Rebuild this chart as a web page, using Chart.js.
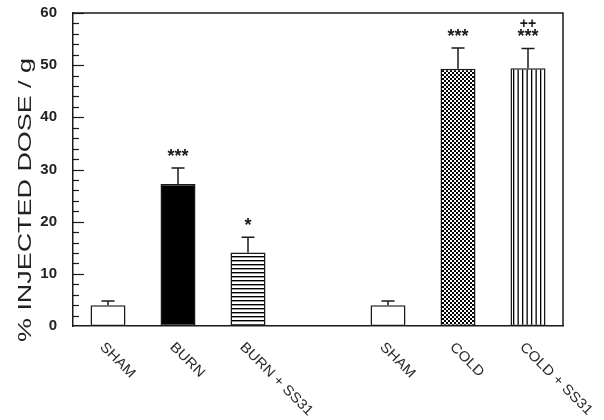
<!DOCTYPE html>
<html>
<head>
<meta charset="utf-8">
<script src="https://cdn.jsdelivr.net/npm/chart.js@4/dist/chart.umd.min.js"></script>
<style>
    html, body { margin: 0; padding: 0; background: #fff; }
</style>
</head>
<body>
<canvas id="doseChart" width="604" height="420"></canvas>
<script>
// values
var groups = ['SHAM', 'BURN', 'BURN + SS31', '', 'SHAM', 'COLD', 'COLD + SS31'];
var doseMeans = [4.0, 27.2, 14.1, null, 4.0, 49.3, 49.4];
var doseErrors = [0.8, 3.1, 2.9, null, 0.8, 4.0, 3.8];
var starMarks = ['', '***', '*', '', '', '***', '***'];
var crossMarks = ['', '', '', '', '', '', '++'];
var yTicks = [0, 10, 20, 30, 40, 50, 60];
var yTitle = '% INJECTED DOSE / g';

var ink = '#1a1a1a';
var fontName = '"Liberation Sans", Arial, sans-serif';

function makePattern(w, h, draw) {
    var c = document.createElement('canvas');
    c.width = w;
    c.height = h;
    var g = c.getContext('2d');
    g.fillStyle = '#fff';
    g.fillRect(0, 0, w, h);
    g.fillStyle = '#000';
    draw(g);
    return g.createPattern(c, 'repeat');
}

var hLines = makePattern(4, 4, function (g) { g.fillRect(0, 0, 4, 1.4); });
var vLines = makePattern(9, 4, function (g) { g.fillRect(0, 0, 1.3, 4); g.fillRect(4.5, 0, 1.3, 4); });
var checker = makePattern(4, 4, function (g) { g.fillRect(0, 0, 2, 2); g.fillRect(2, 2, 2, 2); });

var barFills = ['#fff', '#000', hLines, '#fff', '#fff', checker, vLines];

var figureExtras = {
    id: 'figureExtras',
    afterDatasetsDraw: function (chart) {
        var ctx = chart.ctx;
        var y = chart.scales.y;
        var x = chart.scales.x;
        var area = chart.chartArea;
        var meta = chart.getDatasetMeta(0);

        ctx.save();
        ctx.strokeStyle = ink;
        ctx.fillStyle = ink;
        ctx.lineWidth = 1.5;

        // frame: top and right sides
        ctx.beginPath();
        ctx.moveTo(area.left, area.top);
        ctx.lineTo(area.right, area.top);
        ctx.lineTo(area.right, area.bottom);
        ctx.stroke();

        // inward ticks on the y axis
        ctx.lineWidth = 1.2;
        for (var v = 2; v <= y.max; v += 2) {
            var py = Math.round(y.getPixelForValue(v)) + 0.5;
            var len = v % 10 === 0 ? 11 : 6;
            ctx.beginPath();
            ctx.moveTo(area.left, py);
            ctx.lineTo(area.left + len, py);
            ctx.stroke();
        }

        // upper error whiskers and significance marks
        ctx.lineWidth = 1.5;
        ctx.textAlign = 'center';
        meta.data.forEach(function (bar, i) {
            if (doseMeans[i] == null) {
                return;
            }
            var top = y.getPixelForValue(doseMeans[i] + doseErrors[i]);
            var base = y.getPixelForValue(doseMeans[i]);
            ctx.beginPath();
            ctx.moveTo(bar.x, base);
            ctx.lineTo(bar.x, top);
            ctx.moveTo(bar.x - 6.5, top);
            ctx.lineTo(bar.x + 6.5, top);
            ctx.stroke();

            if (starMarks[i]) {
                ctx.font = 'bold 18px ' + fontName;
                ctx.fillText(starMarks[i], bar.x, top - 6);
            }
            if (crossMarks[i]) {
                ctx.font = 'bold 14px ' + fontName;
                ctx.fillText(crossMarks[i], bar.x, top - 20);
            }
        });

        // slanted category labels
        ctx.font = '14px ' + fontName;
        ctx.fillStyle = '#2a2a2a';
        ctx.textAlign = 'left';
        ctx.textBaseline = 'top';
        groups.forEach(function (name, i) {
            if (!name) {
                return;
            }
            ctx.save();
            ctx.translate(x.getPixelForValue(i) - 1, area.bottom + 14);
            ctx.rotate(Math.PI / 4);
            ctx.scale(1.08, 1);
            ctx.fillText(name, 0, 0);
            ctx.restore();
        });

        // y axis title, stretched along its length like the original
        ctx.save();
        ctx.font = '18px ' + fontName;
        ctx.fillStyle = '#222';
        ctx.textAlign = 'center';
        ctx.textBaseline = 'middle';
        var stretch = 284 / ctx.measureText(yTitle).width;
        ctx.translate(26, 200);
        ctx.rotate(-Math.PI / 2);
        ctx.scale(stretch, 1);
        ctx.fillText(yTitle, 0, 0);
        ctx.restore();

        ctx.restore();
    }
};

new Chart(document.getElementById('doseChart'), {
    type: 'bar',
    data: {
        labels: groups,
        datasets: [{
            data: doseMeans,
            backgroundColor: barFills,
            borderColor: ink,
            borderWidth: 1.5,
            borderSkipped: false,
            categoryPercentage: 1,
            barPercentage: 0.5
        }]
    },
    options: {
        responsive: false,
        animation: false,
        layout: {
            padding: { left: 0, top: 13, right: 41, bottom: 94 }
        },
        scales: {
            x: {
                grid: { display: false },
                border: { display: true, color: ink, width: 1.5 },
                ticks: { display: false },
                afterFit: function (scale) { scale.height = 0; }
            },
            y: {
                min: 0,
                max: 60,
                grid: { display: false },
                border: { display: true, color: ink, width: 1.5 },
                ticks: {
                    padding: 8,
                    color: '#222',
                    font: { family: fontName, size: 15, weight: 'bold' }
                },
                afterBuildTicks: function (scale) {
                    scale.ticks = yTicks.map(function (v) { return { value: v }; });
                },
                afterFit: function (scale) {
                    scale.width = 73;
                    scale.paddingTop = 0;
                    scale.paddingBottom = 0;
                }
            }
        },
        plugins: {
            legend: { display: false },
            tooltip: { enabled: false }
        }
    },
    plugins: [figureExtras]
});
</script>
</body>
</html>
